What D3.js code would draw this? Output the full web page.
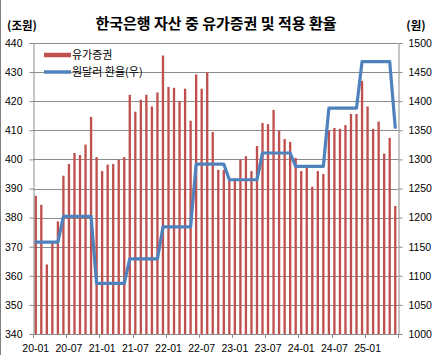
<!DOCTYPE html>
<html><head><meta charset="utf-8">
<script src="https://cdn.jsdelivr.net/npm/d3@7"></script>
<style>
html,body{margin:0;padding:0;background:#fff;}
svg{display:block;font-family:"Noto Sans CJK KR","Noto Sans",sans-serif;}
</style></head>
<body>
<svg id="chart" width="432" height="355"></svg>
<script>
const categories = [
"20-01","20-02","20-03","20-04","20-05","20-06","20-07","20-08","20-09","20-10","20-11","20-12",
"21-01","21-02","21-03","21-04","21-05","21-06","21-07","21-08","21-09","21-10","21-11","21-12",
"22-01","22-02","22-03","22-04","22-05","22-06","22-07","22-08","22-09","22-10","22-11","22-12",
"23-01","23-02","23-03","23-04","23-05","23-06","23-07","23-08","23-09","23-10","23-11","23-12",
"24-01","24-02","24-03","24-04","24-05","24-06","24-07","24-08","24-09","24-10","24-11","24-12",
"25-01","25-02","25-03","25-04","25-05","25-06"];
const securities = [
387.5,384.4,363.9,371.4,378.7,394.4,398.4,402.2,401.5,405.1,414.6,400.8,
396.0,398.2,398.4,399.9,400.8,422.2,416.4,420.5,422.2,418.2,423.0,435.7,
424.9,424.6,420.0,424.3,413.3,429.2,424.3,429.9,409.4,396.4,396.4,393.0,
393.5,400.0,401.1,396.0,404.6,412.5,412.1,417.0,409.9,407.0,406.0,400.5,
396.0,397.8,390.6,396.0,395.0,409.9,410.8,410.5,411.8,415.6,415.6,427.0,
418.2,410.5,413.0,402.0,407.4,384.0];
const fxRate = [
1158,1158,1158,1158,1158,1202,1202,1202,1202,1202,1202,1087,
1087,1087,1087,1087,1087,1129,1129,1129,1129,1129,1129,1184,
1184,1184,1184,1184,1184,1292,1292,1292,1292,1292,1292,1265,
1265,1265,1265,1265,1265,1311,1311,1311,1311,1311,1311,1288,
1288,1288,1288,1288,1288,1388,1388,1388,1388,1388,1388,1468,
1468,1468,1468,1468,1468,1355];
const leftTicks = [340,350,360,370,380,390,400,410,420,430,440];
const rightTicks = [1000,1050,1100,1150,1200,1250,1300,1350,1400,1450,1500];
const xTickLabels = ["20-01","20-07","21-01","21-07","22-01","22-07","23-01","23-07","24-01","24-07","25-01"];
const title = "한국은행 자산 중 유가증권 및 적용 환율";
const seriesNames = ["유가증권","원달러 환율(우)"];

const svg = d3.select("#chart");
const L = 33, R = 398, T = 43, B = 334;
const grid = "#8c8c8c";
const barColor = "#c0504d", lineColor = "#4f81bd";

const x = d3.scaleBand().domain(categories).range([L, R]).padding(0);
const yL = d3.scaleLinear().domain([340, 440]).range([B, T]);
const yR = d3.scaleLinear().domain([1000, 1500]).range([B, T]);

// left border of the frame
svg.append("line").attr("x1",0.5).attr("x2",0.5).attr("y1",0).attr("y2",355).attr("stroke","#7f7f7f");

// gridlines
svg.append("g").selectAll("line").data(leftTicks.slice(1)).join("line")
  .attr("x1", L).attr("x2", R)
  .attr("y1", d => Math.round(yL(d)) + 0.5).attr("y2", d => Math.round(yL(d)) + 0.5)
  .attr("stroke", grid).attr("stroke-width", 1);

// bars
const bw = x.bandwidth() * 0.42;
svg.append("g").selectAll("rect").data(securities).join("rect")
  .attr("x", (d, i) => x(categories[i]) + (x.bandwidth() - bw) / 2)
  .attr("y", d => yL(d))
  .attr("width", bw)
  .attr("height", d => yL(340) - yL(d))
  .attr("fill", barColor);

// line
const line = d3.line()
  .x((d, i) => x(categories[i]) + x.bandwidth() / 2)
  .y(d => yR(d));
svg.append("path").datum(fxRate).attr("d", line)
  .attr("fill", "none").attr("stroke", lineColor).attr("stroke-width", 3.2)
  .attr("stroke-linejoin", "round").attr("stroke-linecap", "round");

// axes
const axL = d3.axisLeft(yL).tickValues(leftTicks).tickSize(4).tickPadding(8).tickFormat(d3.format("d"));
const gL = svg.append("g").attr("transform", `translate(${L + 0.5},0)`).call(axL);
const axR = d3.axisRight(yR).tickValues(rightTicks).tickSize(4).tickPadding(8).tickFormat(d3.format("d"));
const gR = svg.append("g").attr("transform", `translate(${R + 0.5},0)`).call(axR);
const axB = d3.axisBottom(x).tickValues(xTickLabels).tickSize(0).tickPadding(10);
const gB = svg.append("g").attr("transform", `translate(0,${B + 0.5})`).call(axB);
// boundary tick marks every 6 categories
const bounds = categories.filter((c, i) => i % 6 === 0).map(c => x(c)).concat([R]);
svg.append("g").selectAll("line").data(bounds).join("line")
  .attr("x1", d => Math.round(d) + 0.5).attr("x2", d => Math.round(d) + 0.5)
  .attr("y1", B).attr("y2", B + 4).attr("stroke", grid);

[gL, gR, gB].forEach(g => {
  g.select(".domain").attr("stroke", grid);
  g.selectAll(".tick line").attr("stroke", grid);
  g.selectAll("text").attr("fill", "#000").style("font-size", "10.5px")
    .style("font-family", '"Liberation Sans", Arial, sans-serif');
});
gB.select(".domain").attr("d", `M${L},0H${R}`);
gL.selectAll("text").attr("x", -11);
gR.selectAll("text").attr("x", 10);

// title and axis units
svg.append("text").attr("x", 216).attr("y", 29).attr("text-anchor", "middle")
  .style("font-size", "15px").style("font-weight", "bold").text(title);
svg.append("text").attr("x", 22).attr("y", 30).attr("text-anchor", "middle")
  .style("font-size", "11.5px").style("font-weight", "bold").text("(조원)");
svg.append("text").attr("x", 416).attr("y", 30).attr("text-anchor", "middle")
  .style("font-size", "11.5px").style("font-weight", "bold").text("(원)");

// legend
const lg = svg.append("g");
[[barColor, 55], [lineColor, 72]].forEach(([c, yy], i) => {
  lg.append("line").attr("x1", 44).attr("x2", 71).attr("y1", yy).attr("y2", yy)
    .attr("stroke", c).attr("stroke-width", i === 0 ? 4.5 : 3.5);
  lg.append("text").attr("x", 72).attr("y", yy + 4).style("font-size", "11px").text(seriesNames[i]);
});
</script>
</body></html>
